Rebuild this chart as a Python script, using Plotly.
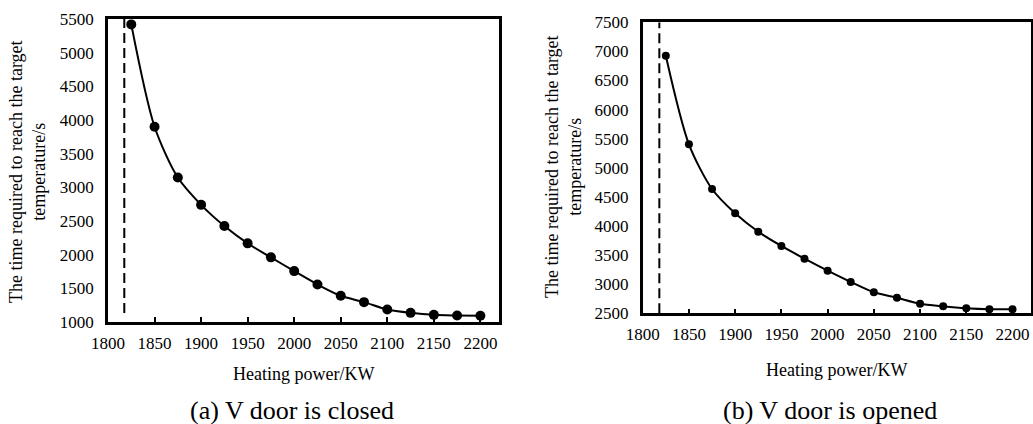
import plotly.graph_objects as go

# ---- data ----
power = [1825, 1850, 1875, 1900, 1925, 1950, 1975, 2000, 2025, 2050, 2075, 2100, 2125, 2150, 2175, 2200]
time_closed = [5420, 3900, 3145, 2740, 2425, 2168, 1960, 1756, 1558, 1389, 1295, 1186, 1136, 1106, 1097, 1092]
time_opened = [6926, 5404, 4636, 4218, 3902, 3657, 3438, 3232, 3038, 2861, 2768, 2665, 2620, 2586, 2569, 2569]
threshold_power = [1817.5, 1818]
x_ticks = [1800, 1850, 1900, 1950, 2000, 2050, 2100, 2150, 2200]
y_ticks_a = [1000, 1500, 2000, 2500, 3000, 3500, 4000, 4500, 5000, 5500]
y_ticks_b = [2500, 3000, 3500, 4000, 4500, 5000, 5500, 6000, 6500, 7000, 7500]
y_title = "The time required to reach the target<br>temperature/s"
x_title = "Heating power/KW"
captions = ["(a) V door is closed", "(b) V door is opened"]

FONT = "Liberation Serif"
W, H = 1033, 424

fig = go.Figure()

# left panel
fig.add_trace(go.Scatter(x=[threshold_power[0]] * 2, y=[1135, 5500], mode="lines",
                         line=dict(color="black", width=2, dash="10px,5px"),
                         xaxis="x", yaxis="y", showlegend=False))
fig.add_trace(go.Scatter(x=power, y=time_closed, mode="lines+markers",
                         line=dict(color="black", width=2, shape="spline", smoothing=0.8),
                         marker=dict(color="black", size=10),
                         xaxis="x", yaxis="y", showlegend=False))
# right panel
fig.add_trace(go.Scatter(x=[threshold_power[1]] * 2, y=[2500, 7500], mode="lines",
                         line=dict(color="black", width=2, dash="10px,5px"),
                         xaxis="x2", yaxis="y2", showlegend=False))
fig.add_trace(go.Scatter(x=power, y=time_opened, mode="lines+markers",
                         line=dict(color="black", width=2, shape="spline", smoothing=0.8),
                         marker=dict(color="black", size=8),
                         xaxis="x2", yaxis="y2", showlegend=False))

def xa(domain, anchor):
    return dict(domain=domain, anchor=anchor, range=[1800, 2220], tickvals=x_ticks,
                ticks="inside", ticklen=5, tickwidth=1.5, tickcolor="black",
                showline=True, linecolor="black", linewidth=2.5, mirror=True,
                showgrid=False, zeroline=False, automargin=False, ticklabelstandoff=4,
                tickfont=dict(family=FONT, size=17, color="black"))

def ya(domain, anchor, rng, tv):
    return dict(domain=domain, anchor=anchor, range=rng, tickvals=tv,
                ticks="", showline=True, linecolor="black", linewidth=2.5, mirror=True,
                showgrid=False, zeroline=False, automargin=False, ticklabelstandoff=8,
                tickfont=dict(family=FONT, size=17, color="black"))

lx = [108 / W, 499 / W]
ly = [(H - 322) / H, (H - 19) / H]
rx = [642.7 / W, 1031 / W]
ry = [(H - 313.3) / H, (H - 22.3) / H]

annotations = []
def ann(text, x, y, size, angle=0):
    annotations.append(dict(text=text, x=x / W, y=1 - y / H, xref="paper", yref="paper",
                            showarrow=False, textangle=angle, xanchor="center", yanchor="middle",
                            font=dict(family=FONT, size=size, color="black")))

ann(y_title, 27, 172, 18, -90)
ann(y_title, 563, 167, 18, -90)
ann(x_title, 303, 374, 18)
ann(x_title, 836, 370, 18)
ann(captions[0], 292, 410, 26)
ann(captions[1], 830, 410, 26)

fig.update_layout(
    width=W, height=H, margin=dict(l=0, r=0, t=0, b=0, autoexpand=False),
    paper_bgcolor="white", plot_bgcolor="white",
    xaxis=xa(lx, "y"), yaxis=ya(ly, "x", [1000, 5500], y_ticks_a),
    xaxis2=xa(rx, "y2"), yaxis2=ya(ry, "x2", [2500, 7500], y_ticks_b),
    annotations=annotations,
)

fig.write_html("out.html", config={"displayModeBar": False},
               post_script="document.body.style.margin='0';document.body.style.overflow='hidden';")
